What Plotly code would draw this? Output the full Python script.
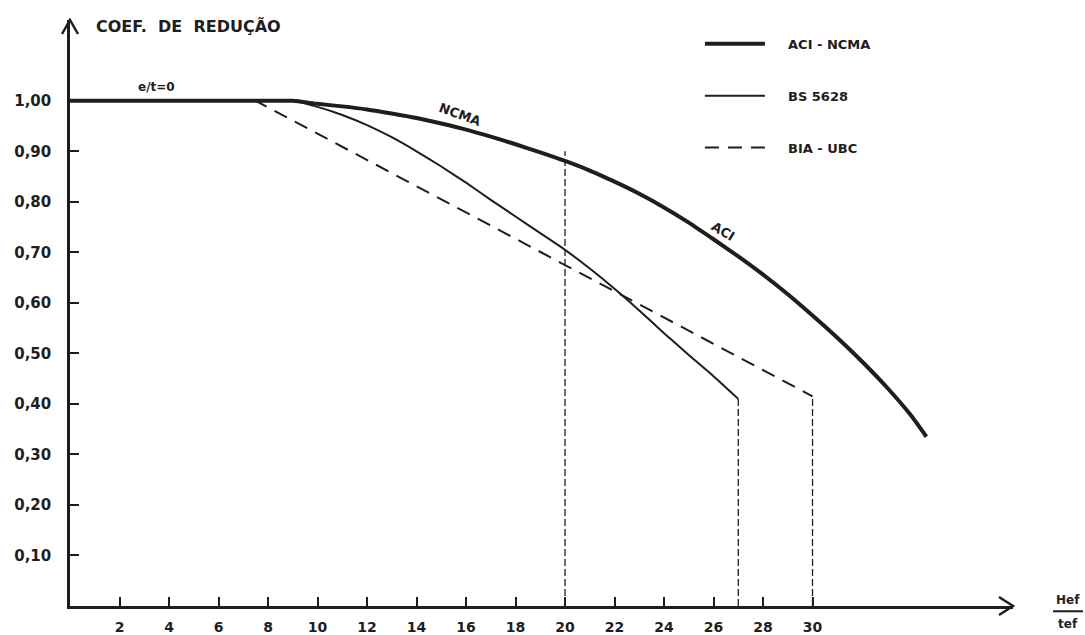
import plotly.graph_objs as go

# values (Hef/tef vs reduction coefficient)
aci_x = [0, 8, 9, 10, 11, 12, 13, 14, 15, 16, 17, 18, 19, 20, 21, 22, 23, 24, 25, 26, 27, 28, 29,
         30, 31, 32, 33, 34, 34.6]
aci_y = [1.0, 1.0, 1.0, 0.994, 0.989, 0.983, 0.975, 0.966, 0.955, 0.943, 0.929, 0.914, 0.898,
         0.881, 0.862, 0.84, 0.816, 0.789, 0.759, 0.726, 0.692, 0.656, 0.617, 0.575, 0.531,
         0.484, 0.433, 0.376, 0.335]

bs_x = [0, 8, 9, 10, 11, 12, 13, 14, 15, 16, 17, 18, 19, 20, 21, 22, 23, 24, 25, 26, 27]
bs_y = [1.0, 1.0, 1.0, 0.988, 0.972, 0.952, 0.928, 0.9, 0.87, 0.838, 0.804, 0.771, 0.738, 0.705,
        0.668, 0.628, 0.585, 0.54, 0.497, 0.455, 0.41]

bia_x = [0, 7.5, 20, 30]
bia_y = [1.0, 1.0, 0.675, 0.415]

guide_x = [20, 27, 30]
guide_top = [0.90, 0.41, 0.415]

x_ticks = [2, 4, 6, 8, 10, 12, 14, 16, 18, 20, 22, 24, 26, 28, 30]
y_ticks = [0.1, 0.2, 0.3, 0.4, 0.5, 0.6, 0.7, 0.8, 0.9, 1.0]
y_ticktext = ["0,10", "0,20", "0,30", "0,40", "0,50", "0,60", "0,70", "0,80", "0,90", "1,00"]

ink = "#1e1e1e"
font = "DejaVu Sans"
pad = "\u00a0" * 4  # pushes legend text away from the sample line

W, H = 1085, 635
ML, MR, MT, MB = 70, 72, 20, 29
PW, PH = W - ML - MR, H - MT - MB

fig = go.Figure()

for gx, gt in zip(guide_x, guide_top):
    fig.add_trace(go.Scatter(x=[gx, gx], y=[0, gt], mode="lines", showlegend=False,
                             line=dict(color=ink, width=1.3, dash="7px,3px")))

fig.add_trace(go.Scatter(x=bia_x, y=bia_y, mode="lines", name=pad + "BIA - UBC", legendrank=3,
                         line=dict(color=ink, width=2, dash="14px,9px")))
fig.add_trace(go.Scatter(x=bs_x, y=bs_y, mode="lines", name=pad + "BS 5628", legendrank=2,
                         line=dict(color=ink, width=2, shape="spline", smoothing=0.5)))
fig.add_trace(go.Scatter(x=aci_x, y=aci_y, mode="lines", name=pad + "ACI - NCMA", legendrank=1,
                         line=dict(color=ink, width=4, shape="spline", smoothing=0.5)))

# each trace its own group so the gap between legend rows can be set
for i, tr in enumerate(fig.data[3:]):
    tr.legendgroup = "g%d" % i

fig.update_layout(
    width=W, height=H,
    margin=dict(l=ML, r=MR, t=MT, b=MB, autoexpand=False),
    paper_bgcolor="white", plot_bgcolor="white",
    font=dict(family=font, color=ink, size=13, weight="bold"),
    legend=dict(x=0.668, y=0.985, xanchor="left", yanchor="top", traceorder="grouped",
                tracegroupgap=32, itemwidth=60, font=dict(size=13, weight="bold"),
                bgcolor="rgba(0,0,0,0)"),
    xaxis=dict(range=[0, 38.1], showgrid=False, zeroline=False, showline=True, linecolor=ink,
               linewidth=2.5, ticks="inside", ticklen=9, tickwidth=2, tickcolor=ink,
               tickvals=x_ticks, ticklabelstandoff=6, automargin=False,
               tickfont=dict(size=14, weight="bold")),
    yaxis=dict(range=[0, 1.16], showgrid=False, zeroline=False, showline=True, linecolor=ink,
               linewidth=2.5, ticks="inside", ticklen=9, tickwidth=2, tickcolor=ink,
               tickvals=y_ticks, ticktext=y_ticktext, ticklabelstandoff=13, automargin=False,
               tickfont=dict(size=15, weight="bold")),
    showlegend=True,
)

# open arrow heads at the axis ends
fig.add_shape(type="path", xref="paper", yref="paper", line=dict(color=ink, width=2.5),
              path="M %f %f L 0 1 L %f %f" % (-8 / PW, 1 - 14 / PH, 8 / PW, 1 - 14 / PH))
fig.add_shape(type="path", xref="paper", yref="paper", line=dict(color=ink, width=2.5),
              path="M %f %f L 1 0 L %f %f" % (1 - 14 / PW, 9 / PH, 1 - 14 / PW, -9 / PH))

fig.add_annotation(text="COEF.  DE  REDUÇÃO", x=0.98, y=1.148, xanchor="left", showarrow=False,
                   font=dict(size=16, weight="bold"))
fig.add_annotation(text="e/t=0", x=3.5, y=1.028, showarrow=False, font=dict(size=12, weight="bold"))
fig.add_annotation(text="NCMA", x=15.75, y=0.972, textangle=20, showarrow=False,
                   font=dict(size=13, weight="bold"))
fig.add_annotation(text="ACI", x=26.4, y=0.742, textangle=31, showarrow=False,
                   font=dict(size=13, weight="bold"))

# Hef / tef label at the end of the x axis
fig.add_annotation(text="Hef", xref="paper", yref="paper", x=1.058, y=0.011, xanchor="center",
                   yanchor="middle", showarrow=False, font=dict(size=12, weight="bold"))
fig.add_annotation(text="tef", xref="paper", yref="paper", x=1.058, y=-0.031, xanchor="center",
                   yanchor="middle", showarrow=False, font=dict(size=12, weight="bold"))
fig.add_shape(type="line", xref="paper", yref="paper", x0=1.0424, x1=1.0742, y0=-0.009, y1=-0.009,
              line=dict(color=ink, width=2))

# drop the default 8px body margin so the figure fills the window exactly
fig.write_html("out.html", config={"displayModeBar": False},
               post_script="document.body.style.margin='0';"
                           "document.body.style.overflow='hidden';")
